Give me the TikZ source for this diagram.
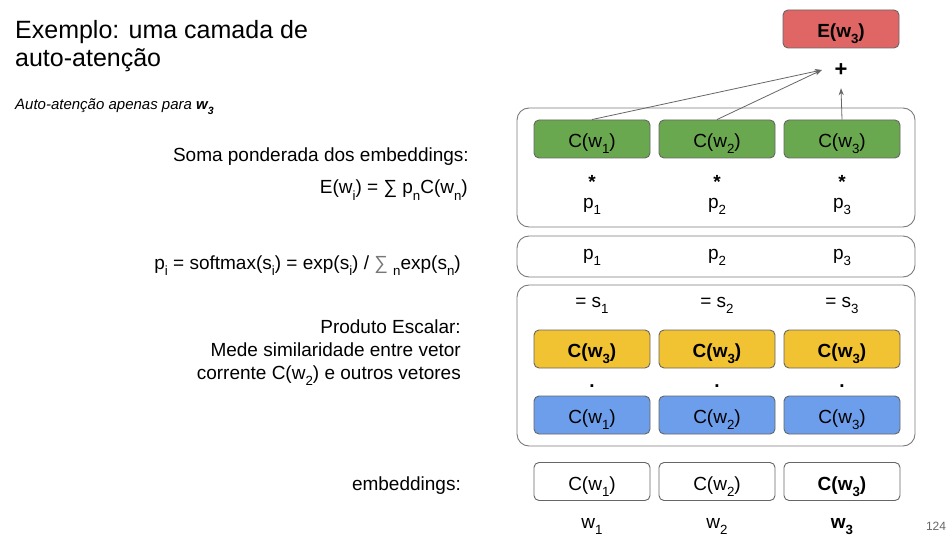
\documentclass[tikz,border=0pt]{standalone}
\usepackage{fontspec}
\setmainfont{Liberation Sans}
\usepackage{graphicx}
\usetikzlibrary{arrows.meta}

% lowered, smaller index as used throughout the slide
\newcommand\lo[1]{\raisebox{-0.32em}{\scalebox{0.7}{#1}}}

\definecolor{cellline}{HTML}{666666}
\definecolor{panelline}{HTML}{7A7A7A}
\definecolor{linkgray}{HTML}{666666}
\definecolor{embgreen}{HTML}{6AA84F}
\definecolor{qyellow}{HTML}{F1C232}
\definecolor{kblue}{HTML}{6D9EEB}
\definecolor{outred}{HTML}{E06666}
\definecolor{pagegray}{HTML}{666666}
\definecolor{sumgray}{HTML}{777777}

\begin{document}
\begin{tikzpicture}[x=1pt,y=-1pt,
  body/.style={font=\fontsize{19}{23}\selectfont, inner sep=0pt},
  cell/.style={draw=cellline, line width=0.9pt, rounded corners=5pt,
    minimum width=116pt, minimum height=38pt, inner sep=0pt,
    text height=17pt, text depth=0pt,
    font=\fontsize{19}{23}\selectfont},
  panel/.style={draw=panelline, line width=0.9pt, rounded corners=12pt,
    minimum width=398pt, inner sep=0pt},
  link/.style={draw=linkgray, line width=0.8pt, -{Stealth[length=7pt,width=5pt]}}
]
\useasboundingbox (0,0) rectangle (950,548);

% ---- left column: title and explanations
\node[anchor=base west, inner sep=0pt, font=\fontsize{25}{28}\selectfont] (title1) at (15,38.5) {Exemplo: uma camada de};
\node[anchor=base west, inner sep=0pt, font=\fontsize{25}{28}\selectfont] (title2) at (15,66.5) {auto-atenção};
\node[anchor=base west, inner sep=0pt, font=\fontsize{15}{18}\selectfont\itshape] (note) at (15,110) {Auto-atenção apenas para \textbf{w\lo{3}}};

\node[body, anchor=base east] (soma) at (469,162) {Soma ponderada dos embeddings:};
\node[body, anchor=base east] (eform) at (468,194) {E(w\lo{i}) = ∑ p\lo{n}C(w\lo{n})};
\node[body, anchor=base east] (soft) at (461,269) {p\lo{i} = softmax(s\lo{i}) = exp(s\lo{i}) / {\color{sumgray}∑} \lo{n}exp(s\lo{n})};
\node[body, anchor=base east] (prod1) at (461,333) {Produto Escalar:};
\node[body, anchor=base east] (prod2) at (461,356) {Mede similaridade entre vetor};
\node[body, anchor=base east] (prod3) at (461,379) {corrente C(w\lo{2}) e outros vetores};
\node[body, anchor=base east] (emb) at (461,490) {embeddings:};

% ---- panels
\node[panel, minimum height=119pt] (sumpanel) at (716,167.5) {};
\node[panel, minimum height=41pt] (ppanel) at (716,256.5) {};
\node[panel, minimum height=161pt] (dotpanel) at (716,365.5) {};

% ---- output
\node[cell, fill=outred, font=\fontsize{19}{23}\selectfont\bfseries] (out) at (841,29) {E(w\lo{3})};
\node[minimum width=38pt, minimum height=36pt, inner sep=0pt, font=\fontsize{22}{26}\selectfont\bfseries] (plus) at (841,70) {+};

% ---- columns
\foreach \i/\x in {1/592, 2/717, 3/842}{
  \node[cell, fill=embgreen] (g\i) at (\x,139) {C(w\lo{\i})};
  \node[body, anchor=base, font=\fontsize{19}{23}\selectfont\bfseries] (star\i) at (\x,189) {*};
  \node[body, anchor=base] (pw\i) at (\x,208) {p\lo{\i}};
  \node[body, anchor=base] (pp\i) at (\x,259) {p\lo{\i}};
  \node[body, anchor=base] (s\i) at (\x,307) {= s\lo{\i}};
  \node[cell, fill=qyellow, font=\fontsize{19}{23}\selectfont\bfseries] (q\i) at (\x,349) {C(w\lo{3})};
  \node[body, anchor=base, font=\fontsize{19}{23}\selectfont\bfseries] (dot\i) at (\x,387) {.};
  \node[cell, fill=kblue] (k\i) at (\x,415) {C(w\lo{\i})};
}
\node[cell, fill=white] (e1) at (592,481.5) {C(w\lo{1})};
\node[cell, fill=white] (e2) at (717,481.5) {C(w\lo{2})};
\node[cell, fill=white, font=\fontsize{19}{23}\selectfont\bfseries] (e3) at (842,481.5) {C(w\lo{3})};

\node[body, anchor=base] (w1) at (592,528) {w\lo{1}};
\node[body, anchor=base] (w2) at (717,528) {w\lo{2}};
\node[body, anchor=base, font=\fontsize{19}{23}\selectfont\bfseries] (w3) at (842,528) {w\lo{3}};

\node[anchor=base, inner sep=0pt, font=\fontsize{12}{14}\selectfont, text=pagegray] (page) at (936,530) {124};

% ---- weighted sum arrows
\draw[link] (g1.north) -- (plus.west);
\draw[link] (g2.north) -- (plus.west);
\draw[link] (g3.north) -- (plus.south);
\end{tikzpicture}
\end{document}
